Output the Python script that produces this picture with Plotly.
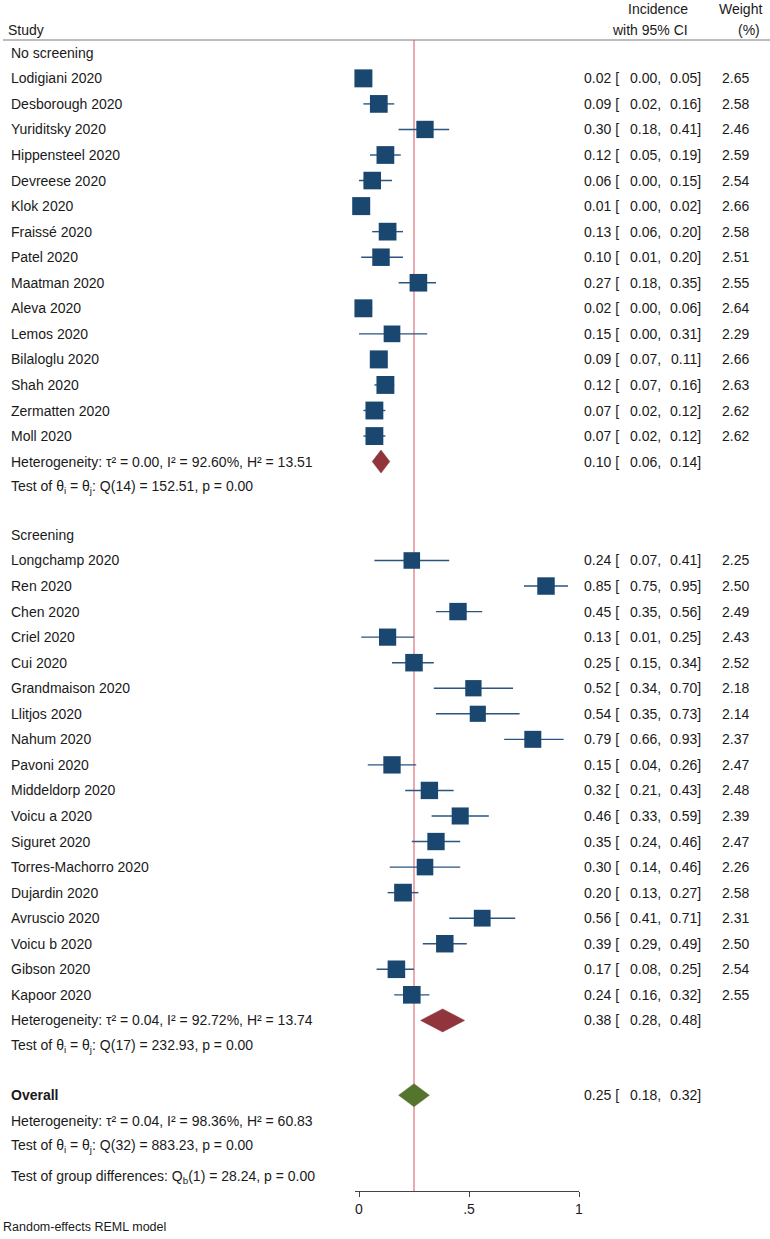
import plotly.graph_objects as go
import numpy as np

# ---------------- data ----------------
g1_label = "No screening"
g1_studies = ["Lodigiani 2020", "Desborough 2020", "Yuriditsky 2020", "Hippensteel 2020",
              "Devreese 2020", "Klok 2020", "Fraissé 2020", "Patel 2020", "Maatman 2020",
              "Aleva 2020", "Lemos 2020", "Bilaloglu 2020", "Shah 2020", "Zermatten 2020",
              "Moll 2020"]
g1_est = [0.02, 0.09, 0.30, 0.12, 0.06, 0.01, 0.13, 0.10, 0.27, 0.02, 0.15, 0.09, 0.12, 0.07, 0.07]
g1_lo = [0.00, 0.02, 0.18, 0.05, 0.00, 0.00, 0.06, 0.01, 0.18, 0.00, 0.00, 0.07, 0.07, 0.02, 0.02]
g1_hi = [0.05, 0.16, 0.41, 0.19, 0.15, 0.02, 0.20, 0.20, 0.35, 0.06, 0.31, 0.11, 0.16, 0.12, 0.12]
g1_wt = [2.65, 2.58, 2.46, 2.59, 2.54, 2.66, 2.58, 2.51, 2.55, 2.64, 2.29, 2.66, 2.63, 2.62, 2.62]
g1_pool = [0.10, 0.06, 0.14]
g1_het = "Heterogeneity: τ² = 0.00, I² = 92.60%, H² = 13.51"
g1_test = "Test of θ<sub>i</sub> = θ<sub>j</sub>: Q(14) = 152.51, p = 0.00"

g2_label = "Screening"
g2_studies = ["Longchamp 2020", "Ren 2020", "Chen 2020", "Criel 2020", "Cui 2020",
              "Grandmaison 2020", "Llitjos 2020", "Nahum 2020", "Pavoni 2020", "Middeldorp 2020",
              "Voicu a 2020", "Siguret 2020", "Torres-Machorro 2020", "Dujardin 2020",
              "Avruscio 2020", "Voicu b 2020", "Gibson 2020", "Kapoor 2020"]
g2_est = [0.24, 0.85, 0.45, 0.13, 0.25, 0.52, 0.54, 0.79, 0.15, 0.32, 0.46, 0.35, 0.30, 0.20, 0.56, 0.39, 0.17, 0.24]
g2_lo = [0.07, 0.75, 0.35, 0.01, 0.15, 0.34, 0.35, 0.66, 0.04, 0.21, 0.33, 0.24, 0.14, 0.13, 0.41, 0.29, 0.08, 0.16]
g2_hi = [0.41, 0.95, 0.56, 0.25, 0.34, 0.70, 0.73, 0.93, 0.26, 0.43, 0.59, 0.46, 0.46, 0.27, 0.71, 0.49, 0.25, 0.32]
g2_wt = [2.25, 2.50, 2.49, 2.43, 2.52, 2.18, 2.14, 2.37, 2.47, 2.48, 2.39, 2.47, 2.26, 2.58, 2.31, 2.50, 2.54, 2.55]
g2_pool = [0.38, 0.28, 0.48]
g2_het = "Heterogeneity: τ² = 0.04, I² = 92.72%, H² = 13.74"
g2_test = "Test of θ<sub>i</sub> = θ<sub>j</sub>: Q(17) = 232.93, p = 0.00"

overall_pool = [0.25, 0.18, 0.32]
overall_het = "Heterogeneity: τ² = 0.04, I² = 98.36%, H² = 60.83"
overall_test = "Test of θ<sub>i</sub> = θ<sub>j</sub>: Q(32) = 883.23, p = 0.00"
group_test = "Test of group differences: Q<sub>b</sub>(1) = 28.24, p = 0.00"
footnote = "Random-effects REML model"

tick_vals = [0, 0.5, 1]
tick_text = ["0", ".5", "1"]

# ---------------- layout constants ----------------
FW, FH = 770, 1239
ML, MR, MT, MB = 355, 191, 40, 48
PW = FW - ML - MR
PH = FH - MT - MB
ROW0 = 52.8      # pixel y of first row
PITCH = 25.55    # pixel per row

FONT = "Liberation Sans, Arial, Helvetica, sans-serif"
TXT = "#1a1a1a"
NAVY = "#1a476f"
MAROON = "#90353b"
GREEN = "#55752f"
REFRED = "#e0707a"


def pxx(p):
    return (p - ML) / PW


def pxy(p):
    return (FH - MB - p) / PH


# row assignment
rows = {}
r = 0
rows["g1_label"] = r
g1_rows = [r + 1 + i for i in range(len(g1_studies))]
r = g1_rows[-1] + 1
rows["g1_het"] = r
rows["g1_test"] = r + 1
rows["g2_label"] = r + 1 + 1.87
g2_rows = [rows["g2_label"] + 1 + i for i in range(len(g2_studies))]
r = g2_rows[-1] + 1
rows["g2_het"] = r
rows["g2_test"] = r + 1
rows["overall"] = r + 1 + 1.93
rows["ov_het"] = rows["overall"] + 1
rows["ov_test"] = rows["overall"] + 2
rows["grp_test"] = rows["overall"] + 3.2

y_top = (MT - ROW0) / PITCH
y_bot = (FH - MB - ROW0) / PITCH

fig = go.Figure()

# CI lines
ci_x, ci_y = [], []
for lo, hi, yy in zip(g1_lo + g2_lo, g1_hi + g2_hi, g1_rows + g2_rows):
    ci_x += [lo, hi, None]
    ci_y += [yy, yy, None]
fig.add_trace(go.Scatter(x=ci_x, y=ci_y, mode="lines", line=dict(color="#2a5580", width=1.4),
                         hoverinfo="skip", showlegend=False, cliponaxis=False))

# squares
all_est = g1_est + g2_est
all_wt = g1_wt + g2_wt
sizes = [18.0 * np.sqrt(w / max(all_wt)) for w in all_wt]
fig.add_trace(go.Scatter(x=all_est, y=g1_rows + g2_rows, mode="markers",
                         marker=dict(symbol="square", size=sizes, color=NAVY, opacity=1,
                                     line=dict(width=0)),
                         showlegend=False, cliponaxis=False))


# diamonds
def diamond(pool, yy, color, h=0.45):
    est, lo, hi = pool
    fig.add_trace(go.Scatter(x=[lo, est, hi, est, lo], y=[yy, yy - h, yy, yy + h, yy],
                             mode="lines", fill="toself", fillcolor=color,
                             line=dict(color=color, width=0.5), showlegend=False,
                             hoverinfo="skip", cliponaxis=False))


diamond(g1_pool, rows["g1_het"], MAROON)
diamond(g2_pool, rows["g2_het"], MAROON)
diamond(overall_pool, rows["overall"], GREEN)

annots = []


def left_text(text, yy, bold=False, x=9, size=14):
    annots.append(dict(x=pxx(x), y=yy, xref="paper", yref="y", text=("<b>%s</b>" % text) if bold else text,
                       showarrow=False, xanchor="left", yanchor="middle",
                       font=dict(family=FONT, size=size, color=TXT)))


def right_text(text, xpx, yy, yref="y", size=14):
    annots.append(dict(x=pxx(xpx), y=yy, xref="paper", yref=yref, text=text,
                       showarrow=False, xanchor="right", yanchor="middle",
                       font=dict(family=FONT, size=size, color=TXT)))


def est_cols(pool, yy, wt=None):
    est, lo, hi = pool
    right_text("%.2f [" % est, 621, yy)
    right_text("%.2f," % lo, 663, yy)
    right_text("%.2f]" % hi, 703, yy)
    if wt is not None:
        right_text("%.2f" % wt, 751, yy)


left_text(g1_label, rows["g1_label"])
for name, e, lo, hi, w, yy in zip(g1_studies, g1_est, g1_lo, g1_hi, g1_wt, g1_rows):
    left_text(name, yy)
    est_cols([e, lo, hi], yy, w)
left_text(g1_het, rows["g1_het"])
est_cols(g1_pool, rows["g1_het"])
left_text(g1_test, rows["g1_test"])

left_text(g2_label, rows["g2_label"])
for name, e, lo, hi, w, yy in zip(g2_studies, g2_est, g2_lo, g2_hi, g2_wt, g2_rows):
    left_text(name, yy)
    est_cols([e, lo, hi], yy, w)
left_text(g2_het, rows["g2_het"])
est_cols(g2_pool, rows["g2_het"])
left_text(g2_test, rows["g2_test"])

left_text("Overall", rows["overall"], bold=True)
est_cols(overall_pool, rows["overall"])
left_text(overall_het, rows["ov_het"])
left_text(overall_test, rows["ov_test"])
left_text(group_test, rows["grp_test"])

# header
annots.append(dict(x=pxx(6), y=pxy(30), xref="paper", yref="paper", text="Study", showarrow=False,
                   xanchor="left", yanchor="middle", font=dict(family=FONT, size=14, color=TXT)))
right_text("Incidence", 690, pxy(9), yref="paper")
right_text("with 95% CI", 690, pxy(30), yref="paper")
right_text("Weight", 764, pxy(9), yref="paper")
right_text("(%)", 762, pxy(30), yref="paper")

# footnote
annots.append(dict(x=pxx(1), y=pxy(1227), xref="paper", yref="paper", text=footnote, showarrow=False,
                   xanchor="left", yanchor="middle", font=dict(family=FONT, size=12.5, color=TXT)))

shapes = [
    dict(type="line", xref="paper", yref="paper", x0=pxx(3), x1=pxx(770), y0=1, y1=1,
         line=dict(color="#7a7a7a", width=1)),
    dict(type="line", xref="x", yref="paper", x0=overall_pool[0], x1=overall_pool[0], y0=0, y1=1,
         line=dict(color=REFRED, width=1.2), layer="below"),
]

fig.update_layout(
    width=FW, height=FH,
    margin=dict(l=ML, r=MR, t=MT, b=MB, pad=0),
    plot_bgcolor="white", paper_bgcolor="white",
    showlegend=False,
    annotations=annots,
    shapes=shapes,
    xaxis=dict(range=[-4 / 220, 1.0], tickvals=tick_vals, ticktext=tick_text, showgrid=False,
               zeroline=False, showline=True, linecolor="#444444", linewidth=1,
               ticks="outside", ticklen=5, tickcolor="#444444", tickwidth=1,
               tickfont=dict(family=FONT, size=14, color=TXT), fixedrange=True),
    yaxis=dict(range=[y_bot, y_top], visible=False, showgrid=False, zeroline=False, fixedrange=True),
)

fig.write_html("out.html", config={"displayModeBar": False},
               post_script="document.body.style.margin='0px';document.body.style.overflow='hidden';")
